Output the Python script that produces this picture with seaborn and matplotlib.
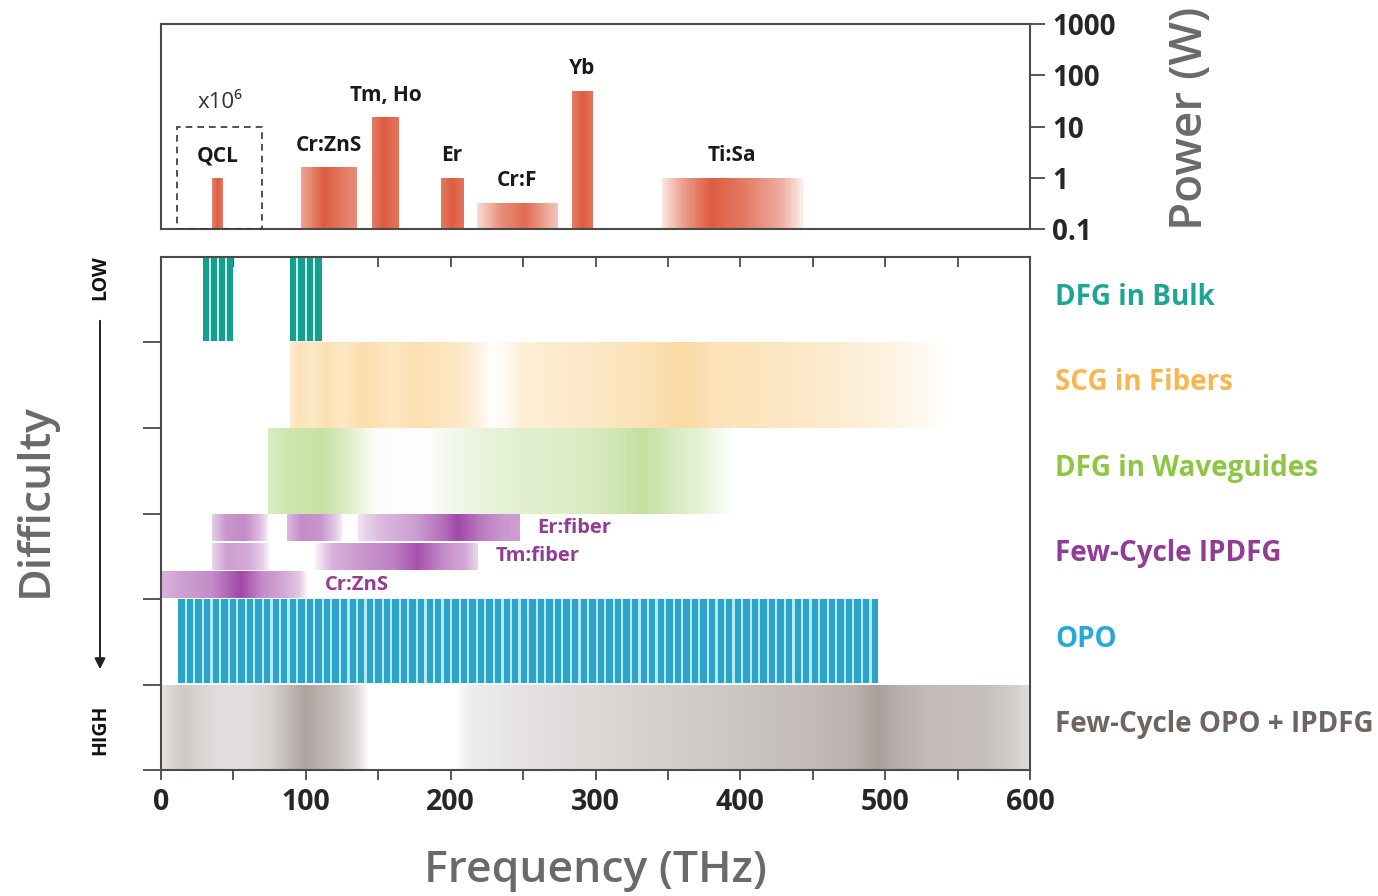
import numpy as np
import matplotlib
matplotlib.use("Agg")
import matplotlib.pyplot as plt
import seaborn as sns
from matplotlib.patches import Rectangle
from matplotlib.ticker import MultipleLocator, FixedLocator, NullLocator

# ---- top panel: laser sources (THz range and output power in W)
sources = ["QCL", "Cr:ZnS", "Tm, Ho", "Er", "Cr:F", "Yb", "Ti:Sa"]
src_lo = [35, 97, 146, 193, 218, 284, 346]
src_hi = [43, 135, 164, 209, 274, 298, 443]
src_power = [1.0, 1.6, 15, 1.0, 0.32, 50, 1.0]
qcl_box = [11, 70, 10]          # THz lo, THz hi, power top of the dashed box
power_ticks = [0.1, 1, 10, 100, 1000]
power_labels = ["0.1", "1", "10", "100", "1000"]

# ---- bottom panel: techniques (top row = low difficulty)
techniques = ["DFG in Bulk", "SCG in Fibers", "DFG in Waveguides",
              "Few-Cycle IPDFG", "OPO", "Few-Cycle OPO + IPDFG"]
dfg_bulk_lo = [29, 89]
dfg_bulk_hi = [50, 111]
scg_range = [89, 545]
wg_range = [74, 396]
ipdfg_names = ["Er:fiber", "Tm:fiber", "Cr:ZnS"]
ipdfg_lo = [[35, 87, 136], [35, 106], [1]]
ipdfg_hi = [[74, 125, 248], [75, 219], [101]]
opo_range = [12, 495]
opo_ipdfg_lo = [1, 205]
opo_ipdfg_hi = [143, 600]

# shading profiles (intensity along frequency), purely cosmetic
top_shapes = [
    [(0, .75), (.5, 1), (1, .8)],
    [(0, .55), (.4, 1), (.7, .85), (1, .7)],
    [(0, .8), (.4, 1), (1, .85)],
    [(0, .8), (.5, 1), (1, .85)],
    [(0, .2), (.3, .7), (.6, .9), (1, .35)],
    [(0, .8), (.5, 1), (1, .85)],
    [(0, .15), (.15, .6), (.35, 1), (.6, .8), (.85, .5), (1, .1)],
]
scg_shape = [(89, .45), (95, .7), (105, .55), (115, .75), (125, .55), (140, .8), (160, .6),
             (175, .75), (200, .6), (215, .4), (228, .05), (236, .1), (250, .4), (280, .5),
             (310, .6), (340, .75), (362, .9), (380, .7), (410, .65), (440, .55), (470, .45),
             (500, .3), (525, .15), (545, 0)]
wg_shape = [(74, .55), (85, .7), (100, .8), (112, .85), (125, .6), (138, .3), (148, .05),
            (185, .03), (195, .15), (215, .3), (250, .45), (290, .55), (315, .7), (333, .9),
            (350, .65), (375, .35), (396, 0)]
ipdfg_shapes = [
    [[(35, .25), (45, .55), (58, .6), (68, .35), (74, .1)],
     [(87, .35), (97, .6), (110, .55), (120, .3), (125, .1)],
     [(136, .15), (150, .35), (175, .5), (195, .75), (205, .95), (220, .7), (235, .55), (248, .5)]],
    [[(35, .2), (45, .5), (60, .45), (70, .25), (75, .05)],
     [(106, .05), (118, .4), (140, .55), (160, .65), (177, .9), (195, .6), (210, .45), (219, .2)]],
    [[(1, .4), (15, .5), (35, .6), (55, .95), (70, .6), (85, .45), (95, .3), (101, .05)]],
]
gray_shapes = [
    [(1, .3), (8, .45), (18, .55), (25, .45), (40, .35), (60, .35), (75, .45), (90, .75),
     (100, .95), (110, .8), (125, .6), (135, .4), (143, .05)],
    [(205, .05), (215, .2), (250, .3), (300, .4), (350, .5), (400, .6), (450, .7), (480, .8),
     (495, 1.0), (505, .85), (530, .7), (570, .65), (590, .5), (600, .35)],
]

label_colors = ["#1FA596", "#F7B74E", "#8DC641", "#923C96", "#26A9DA", "#6E6562"]

sns.set_theme(style="white")
plt.rcParams['font.family'] = ['Open Sans', 'DejaVu Sans']
SPINE = "#4a4a4a"
GRAYTXT = "#6a6a6a"


def shade(ax, lo, hi, y0, y1, knots, color, rel=False, n=240):
    xs = np.linspace(lo, hi, n + 1)
    xc = 0.5 * (xs[:-1] + xs[1:])
    kx = np.array([k[0] for k in knots], float)
    kv = np.array([k[1] for k in knots], float)
    if rel:
        kx = lo + kx * (hi - lo)
    v = np.interp(xc, kx, kv)
    cmap = sns.blend_palette(["white", color], as_cmap=True)
    ax.pcolormesh(xs, [y0, y1], v[None, :], cmap=cmap, vmin=0, vmax=1,
                  shading='flat', edgecolors='none', linewidth=0, antialiased=False)


def stripes(ax, lo, hi, y0, y1, n, color, gap_color, fill=0.74):
    ax.add_patch(Rectangle((lo, y0), hi - lo, y1 - y0, color=gap_color, lw=0))
    w = (hi - lo) / (n - (1 - fill))
    left = lo + np.arange(n) * w
    ax.bar(left, y1 - y0, width=w * fill, bottom=y0, align='edge', color=color, lw=0)


W, H = 1378, 896
fig = plt.figure(figsize=(W / 100, H / 100), dpi=100)
x0, x1 = 161, 1030
ax_top = fig.add_axes([x0 / W, 1 - 229 / H, (x1 - x0) / W, (229 - 24) / H])
ax = fig.add_axes([x0 / W, 1 - 770 / H, (x1 - x0) / W, (770 - 257) / H])

# ---------------- top panel
ax_top.set_yscale('log')
ax_top.set_xlim(0, 600)
ax_top.set_ylim(0.1, 1000)
for i, name in enumerate(sources):
    shade(ax_top, src_lo[i], src_hi[i], 0.1, src_power[i], top_shapes[i], "#DE5C40", rel=True, n=60)
    ax_top.annotate(name, ((src_lo[i] + src_hi[i]) / 2, src_power[i]), xytext=(0, 16),
                    textcoords='offset points', ha='center', va='center',
                    fontsize=15, fontweight='bold', color='#1a1a1a')
ax_top.add_patch(Rectangle((qcl_box[0], 0.1), qcl_box[1] - qcl_box[0], qcl_box[2] - 0.1,
                           fill=False, ls=(0, (4, 3)), lw=1.2, ec='#333333', zorder=5))
ax_top.text((qcl_box[0] + qcl_box[1]) / 2, 29, "x10\u2076", ha='center', va='center',
            fontsize=16, color='#333333')
ax_top.xaxis.set_major_locator(NullLocator())
ax_top.yaxis.tick_right()
ax_top.yaxis.set_major_locator(FixedLocator(power_ticks))
ax_top.yaxis.set_minor_locator(NullLocator())
ax_top.set_yticklabels(power_labels)
ax_top.tick_params(axis='y', which='major', direction='out', length=11, width=1.3,
                   color=SPINE, labelsize=20, pad=5, right=True, left=False)
for t in ax_top.get_yticklabels():
    t.set_fontweight('bold')
for s in ax_top.spines.values():
    s.set_color(SPINE)
    s.set_linewidth(1.5)

# ---------------- bottom panel
ax.set_xlim(0, 600)
ax.set_ylim(6, 0)

# row 0: DFG in bulk
for lo, hi in zip(dfg_bulk_lo, dfg_bulk_hi):
    stripes(ax, lo, hi, 0, 0.98, 4, "#14A08E", "#CDEFEA")
# row 1: SCG in fibers
shade(ax, scg_range[0], scg_range[1], 1, 2, scg_shape, "#FAD598")
# row 2: DFG in waveguides
shade(ax, wg_range[0], wg_range[1], 2, 3, wg_shape, "#BCDC94")
# row 3: few-cycle IPDFG, three sub rows
for j, name in enumerate(ipdfg_names):
    ya, yb = 3 + j / 3 + 0.01, 3 + (j + 1) / 3 - 0.01
    for lo, hi, shp in zip(ipdfg_lo[j], ipdfg_hi[j], ipdfg_shapes[j]):
        shade(ax, lo, hi, ya, yb, shp, "#9C3EA3")
    ax.text(max(ipdfg_hi[j]) + 12, (ya + yb) / 2, name, ha='left', va='center',
            fontsize=14.5, fontweight='bold', color="#923C96")
# row 4: OPO
stripes(ax, opo_range[0], opo_range[1], 4, 4.98, 82, "#2CA3C9", "#B5EAF6")
# row 5: few-cycle OPO + IPDFG
for lo, hi, shp in zip(opo_ipdfg_lo, opo_ipdfg_hi, gray_shapes):
    shade(ax, lo, hi, 5, 6, shp, "#A89E9A")

# labels on the right
for i, (name, c) in enumerate(zip(techniques, label_colors)):
    ax.text(1.029, 1 - (i + 0.47) / 6, name, transform=ax.transAxes, ha='left', va='center',
            fontsize=20, fontweight='bold', color=c, clip_on=False)

ax.xaxis.set_major_locator(MultipleLocator(100))
ax.xaxis.set_minor_locator(MultipleLocator(50))
ax.tick_params(axis='x', which='both', direction='out', length=7, width=1.3, color=SPINE,
               bottom=True, top=False, labelsize=20.5, pad=6)
for t in ax.get_xticklabels():
    t.set_fontweight('bold')
ax.yaxis.set_major_locator(FixedLocator([1, 2, 3, 4, 5, 6]))
ax.yaxis.set_minor_locator(NullLocator())
ax.set_yticklabels([])
ax.tick_params(axis='y', which='major', direction='out', length=13, width=1.3, color=SPINE, left=True)
sec = ax.secondary_xaxis('top')
sec.xaxis.set_major_locator(MultipleLocator(50))
sec.tick_params(axis='x', direction='in', length=7, width=1.3, color=SPINE, labeltop=False)
sec.spines['top'].set_visible(False)
for s in ax.spines.values():
    s.set_color(SPINE)
    s.set_linewidth(1.5)

# axis titles
fig.text(595 / W, 1 - 870 / H, "Frequency (THz)", ha='center', va='center',
         fontsize=32, fontweight='semibold', color=GRAYTXT)
fig.text(1190 / W, 1 - 118 / H, "Power (W)", ha='center', va='center', rotation=90,
         fontsize=33, fontweight='semibold', color=GRAYTXT)
fig.text(35 / W, 1 - 500 / H, "Difficulty", ha='center', va='center', rotation=90,
         fontsize=32, fontweight='semibold', color=GRAYTXT)
fig.text(100 / W, 1 - 278 / H, "LOW", ha='center', va='center', rotation=90,
         fontsize=14, fontweight='bold', color='#111111')
fig.text(100 / W, 1 - 730 / H, "HIGH", ha='center', va='center', rotation=90,
         fontsize=14, fontweight='bold', color='#111111')
ax.annotate('', xy=(100, H - 672), xytext=(100, H - 318), xycoords='figure pixels',
            textcoords='figure pixels',
            arrowprops=dict(arrowstyle='-|>', lw=1.4, color='#222222', mutation_scale=16))

fig.savefig("out.png", dpi=100)
